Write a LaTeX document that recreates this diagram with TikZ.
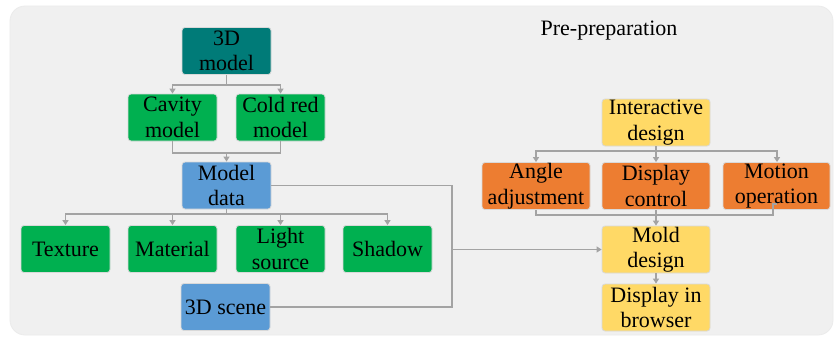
\documentclass[tikz,border=0pt]{standalone}
\usepackage{fontspec}
\setmainfont{Liberation Serif}
\usetikzlibrary{arrows.meta}
\definecolor{bgpanel}{HTML}{F0F0F0}
\definecolor{tealbox}{HTML}{007B78}
\definecolor{greenbox}{HTML}{00B050}
\definecolor{bluebox}{HTML}{5B9BD5}
\definecolor{yellowbox}{HTML}{FFD966}
\definecolor{orangebox}{HTML}{ED7D31}
\definecolor{linkgray}{HTML}{A3A3A3}
\tikzset{
  box/.style={rounded corners=3pt, draw=black!15, line width=0.8pt, inner sep=0pt,
    align=center, minimum width=89pt, minimum height=47pt,
    font=\rmfamily\fontsize{22}{25.5}\selectfont},
  wide/.style={minimum width=108pt},
  link/.style={draw=linkgray, line width=1.9pt},
  arr/.style={link, -{Triangle[width=6pt,length=5pt]}}
}
\begin{document}
\begin{tikzpicture}[x=1pt,y=-1pt]
  \useasboundingbox (0,0) rectangle (834,338);
  \fill[white] (0,0) rectangle (834,338);
  \draw[fill=bgpanel, draw=black!8, line width=0.8pt, rounded corners=15pt] (10,6) rectangle (833,335);

  \node[font=\rmfamily\fontsize{22}{25}\selectfont] (title) at (609,31) {Pre-preparation};

  % left tree
  \node[box, fill=tealbox]  (m3d)    at (226.5,51)    {3D\\model};
  \node[box, fill=greenbox] (cav)    at (172.5,117.5) {Cavity\\model};
  \node[box, fill=greenbox] (cold)   at (280.5,117.5) {Cold red\\model};
  \node[box, fill=bluebox]  (mdata)  at (226.5,185.5) {Model\\data};
  \node[box, fill=greenbox] (tex)    at (65.5,249)    {Texture};
  \node[box, fill=greenbox] (mat)    at (172.5,249)   {Material};
  \node[box, fill=greenbox] (light)  at (280.5,249)   {Light\\source};
  \node[box, fill=greenbox] (shadow) at (387.5,249)   {Shadow};
  \node[box, fill=bluebox]  (scene)  at (225.5,307)   {3D scene};

  % right tree
  \node[box, wide, fill=yellowbox] (inter)   at (656,122.5) {Interactive\\design};
  \node[box, wide, fill=orangebox] (angle)   at (536,186)   {Angle\\adjustment};
  \node[box, wide, fill=orangebox] (disp)    at (656,186)   {Display\\control};
  \node[box, wide, fill=orangebox, minimum width=107pt] (motion) at (776.5,186) {Motion\\operation};
  \node[box, wide, fill=yellowbox] (mold)    at (656,249.5) {Mold\\design};
  \node[box, wide, fill=yellowbox] (browser) at (656,307.5) {Display in\\browser};

  % junction points
  \coordinate (j0) at (226.5,85);
  \coordinate (j1) at (226.5,153);
  \coordinate (j2) at (226.5,214);
  \coordinate (j3) at (452,249.5);
  \coordinate (j4) at (656,151);
  \coordinate (j5) at (656,215);
  \coordinate (k)  at ([xshift=-3.5pt,yshift=6pt]motion.south);

  % 3D model -> cavity / cold red
  \draw[link] (m3d.south) -- (j0);
  \draw[arr] (j0) -| (cav.north);
  \draw[arr] (j0) -| (cold.north);

  % cavity / cold red -> model data
  \draw[link] (cav.south) |- (j1) -| (cold.south);
  \draw[arr] (j1) -- (mdata.north);

  % model data -> attributes
  \draw[link] (mdata.south) -- (j2);
  \draw[arr] (j2) -| (tex.north);
  \draw[arr] (j2) -| (mat.north);
  \draw[arr] (j2) -| (light.north);
  \draw[arr] (j2) -| (shadow.north);

  % model data and scene -> mold design
  \draw[link] (mdata.east) -| (j3) |- (scene.east);
  \draw[arr] (j3) -- (mold.west);

  % interactive design -> operations
  \draw[link] (inter.south) -- (j4);
  \draw[arr] (j4) -| (angle.north);
  \draw[arr] (j4) -- (disp.north);
  \draw[arr] (j4) -| ([xshift=0.5pt]motion.north);

  % operations -> mold design
  \draw[link] (angle.south) |- (j5) -| (k) -- ([yshift=6pt]motion.south);
  \draw[link] (disp.south) -- (j5);
  \draw[arr] (j5) -- (mold.north);

  % mold design -> browser
  \draw[arr] (mold.south) -- (browser.north);
\end{tikzpicture}
\end{document}
